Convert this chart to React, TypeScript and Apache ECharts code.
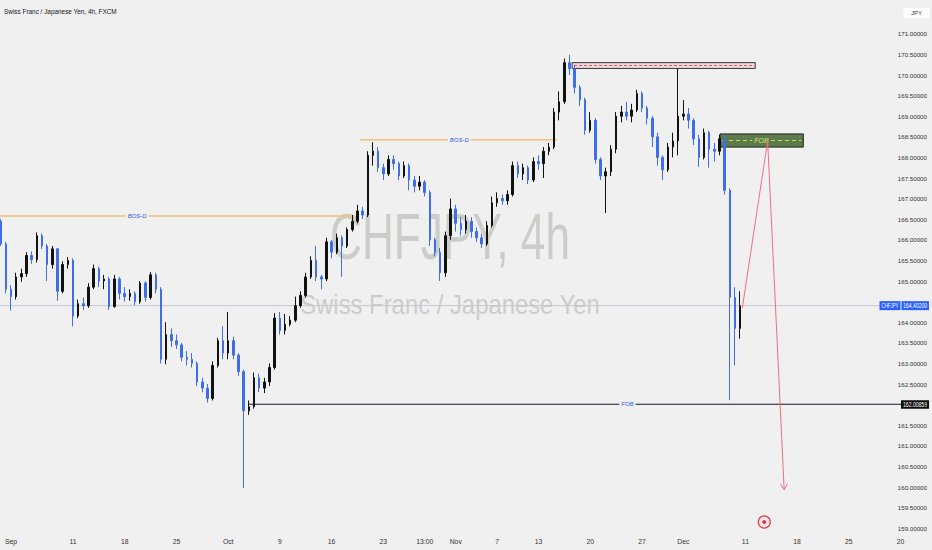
import React, { useEffect, useRef } from 'react';
import * as echarts from 'echarts';

// 12-hour candles, CHF/JPY, from 31 Aug 2023 to 8 Dec 2023
const opens = [
  166.45, 165.90, 164.80, 164.62, 165.10, 165.18, 165.62, 165.52, 166.10, 165.85,
  165.40, 165.78, 164.75, 165.40, 165.50, 164.15, 164.45, 164.40, 164.85, 165.30,
  165.00, 165.05, 164.38, 165.05, 164.70, 164.62, 164.70, 164.50, 164.95, 164.60,
  165.15, 164.80, 163.10, 163.70, 163.55, 163.45, 163.15, 163.10, 163.00, 162.55,
  162.40, 162.15, 162.95, 163.55, 163.25, 163.55, 163.20, 162.80, 161.85, 161.95,
  162.65, 162.40, 162.55, 162.90, 164.10, 163.80, 163.95, 164.05, 164.40, 164.65,
  165.10, 165.50, 165.10, 165.05, 165.95, 165.70, 166.05, 165.85, 166.25, 166.45,
  166.70, 166.60, 168.05, 168.15, 167.75, 167.60, 167.95, 167.85, 167.55, 167.80,
  167.45, 167.30, 167.40, 167.15, 166.00, 165.70, 165.20, 166.10, 166.75, 166.40,
  166.25, 166.45, 166.20, 166.05, 165.90, 166.35, 166.90, 167.00, 166.95, 167.10,
  167.80, 167.60, 167.75, 167.45, 167.90, 167.85, 168.15, 168.25, 169.10, 169.35,
  170.30, 170.15, 169.70, 169.40, 168.66, 168.90, 167.95, 167.55, 167.65, 168.20,
  169.00, 169.10, 169.00, 169.15, 169.55, 169.20, 168.95, 168.50, 168.00, 167.70,
  168.25, 168.40, 169.00, 169.05, 168.90, 168.45, 168.00, 168.60, 168.20, 168.15,
  168.45, 167.20, 164.60, 163.85,
];
const closes = [
  165.90, 164.80, 164.62, 165.10, 165.18, 165.62, 165.52, 166.10, 165.85, 165.40,
  165.78, 164.75, 165.40, 165.50, 164.15, 164.45, 164.40, 164.85, 165.30, 165.00,
  165.05, 164.38, 165.05, 164.70, 164.62, 164.70, 164.50, 164.95, 164.60, 165.15,
  164.80, 163.10, 163.70, 163.55, 163.45, 163.15, 163.10, 163.00, 162.55, 162.40,
  162.15, 162.95, 163.55, 163.25, 163.55, 163.20, 162.80, 161.85, 161.95, 162.65,
  162.40, 162.55, 162.90, 164.10, 163.80, 163.95, 164.05, 164.40, 164.65, 165.10,
  165.50, 165.10, 165.05, 165.95, 165.70, 166.05, 165.85, 166.25, 166.45, 166.70,
  166.60, 168.05, 168.15, 167.75, 167.60, 167.95, 167.85, 167.55, 167.80, 167.45,
  167.30, 167.40, 167.15, 166.00, 165.70, 165.20, 166.10, 166.75, 166.40, 166.25,
  166.45, 166.20, 166.05, 165.90, 166.35, 166.90, 167.00, 166.95, 167.10, 167.80,
  167.60, 167.75, 167.45, 167.90, 167.85, 168.15, 168.25, 169.10, 169.35, 170.30,
  170.15, 169.70, 169.40, 168.66, 168.90, 167.95, 167.55, 167.65, 168.20, 169.00,
  169.10, 169.00, 169.15, 169.55, 169.20, 168.95, 168.50, 168.00, 167.70, 168.25,
  168.40, 169.00, 169.05, 168.90, 168.45, 168.00, 168.60, 168.20, 168.15, 168.45,
  167.20, 164.60, 163.85, 164.40,
];
const lows = [
  165.85, 164.70, 164.28, 164.55, 164.98, 165.10, 165.42, 165.45, 165.78, 165.00,
  165.30, 164.52, 164.70, 165.30, 163.90, 164.10, 164.30, 164.35, 164.80, 164.85,
  164.80, 164.30, 164.35, 164.55, 164.50, 164.52, 164.42, 164.45, 164.50, 164.55,
  164.70, 163.00, 162.98, 163.40, 163.35, 163.05, 162.95, 162.90, 162.45, 162.30,
  162.05, 162.10, 162.90, 163.10, 163.10, 163.10, 162.70, 159.98, 161.75, 161.90,
  162.30, 162.28, 162.45, 162.85, 163.70, 163.70, 163.90, 164.00, 164.35, 164.60,
  165.05, 165.00, 164.80, 165.00, 165.55, 165.65, 165.10, 165.80, 166.20, 166.40,
  166.50, 166.55, 167.80, 167.65, 167.45, 167.55, 167.70, 167.45, 167.50, 167.20,
  167.15, 167.20, 167.05, 165.85, 165.60, 165.00, 165.10, 166.00, 166.20, 166.10,
  166.15, 166.05, 165.95, 165.80, 165.85, 166.30, 166.80, 166.85, 166.85, 167.05,
  167.50, 167.45, 167.35, 167.40, 167.70, 167.50, 168.05, 168.20, 168.90, 169.30,
  170.00, 169.55, 169.25, 168.55, 168.60, 167.85, 167.45, 166.65, 167.55, 168.10,
  168.85, 168.90, 168.85, 169.10, 169.10, 168.80, 168.25, 167.80, 167.45, 167.65,
  168.00, 168.05, 168.90, 168.70, 168.30, 167.77, 167.95, 167.75, 167.90, 168.05,
  167.10, 162.11, 162.95, 163.60,
];
const highs = [
  166.50, 165.95, 164.90, 165.20, 165.30, 165.70, 165.72, 166.18, 166.15, 165.90,
  165.85, 165.80, 165.48, 165.58, 165.55, 164.55, 164.60, 164.95, 165.40, 165.35,
  165.15, 165.10, 165.15, 165.10, 164.85, 164.80, 164.75, 165.00, 165.00, 165.22,
  165.20, 164.85, 164.00, 163.85, 163.70, 163.50, 163.30, 163.25, 163.05, 162.65,
  162.50, 163.05, 163.62, 163.90, 164.25, 163.65, 163.25, 162.85, 162.10, 162.78,
  162.75, 162.65, 163.00, 164.22, 164.25, 164.20, 164.15, 164.62, 164.75, 165.20,
  165.60, 165.85, 165.15, 166.05, 166.00, 166.15, 166.10, 166.30, 166.60, 166.85,
  166.80, 168.15, 168.37, 168.25, 167.85, 168.05, 168.05, 167.90, 167.90, 167.85,
  167.55, 167.55, 167.45, 167.20, 166.05, 165.80, 166.20, 167.00, 166.85, 166.55,
  166.60, 166.55, 166.30, 166.15, 166.45, 167.05, 167.15, 167.10, 167.20, 167.90,
  167.90, 167.85, 167.80, 168.00, 168.05, 168.25, 168.35, 169.20, 169.60, 170.40,
  170.49, 170.25, 169.75, 169.45, 169.10, 168.95, 168.00, 167.75, 168.30, 169.10,
  169.25, 169.35, 169.30, 169.64, 169.60, 169.25, 169.00, 168.60, 168.05, 168.35,
  168.60, 170.16, 169.39, 169.20, 168.95, 168.55, 168.70, 168.65, 168.35, 168.55,
  168.55, 167.25, 164.85, 164.75,
];

// time-axis labels (first 12h slot of each date)
const tickDates = [
  '2023-09-01', '2023-09-11', '2023-09-18', '2023-09-25', '2023-10-02', '2023-10-09',
  '2023-10-16', '2023-10-23', '2023-10-27', '2023-11-01', '2023-11-07', '2023-11-13',
  '2023-11-20', '2023-11-27', '2023-12-01', '2023-12-11', '2023-12-18', '2023-12-25',
  '2024-01-01',
];
const tickTexts = [
  'Sep', '11', '18', '25', 'Oct', '9', '16', '23', '13:00', 'Nov', '7', '13', '20', '27',
  'Dec', '11', '18', '25', '20',
];

// key levels / drawings (slot index, price)
const lastPrice = 164.402;
const fobLevel = 162.00859;
const hiddenTicks = [164.5, 162.0]; // covered by the price-scale badges
const bosLevels = [166.58, 168.43];
const bosSpans = [[-0.5, 68.6, 26.4], [69.5, 107.6, 88.7]];
const topBox = { from: 110.5, to: 145.9, hi: 170.3, lo: 170.16, mid: 170.23 };
const greenBox = { from: 139.1, to: 155.2, hi: 168.57, lo: 168.25, mid: 168.41, label: 147.1 };
const projection = [[143.4, 164.34], [148.3, 168.4], [151.5, 159.93]];
const fobLineStart = 47.9;
const fobLabelSlot = 121.2;
const markerPoint = [147.65, 159.15];

const SLOT_COUNT = 180;
const NARROW = "'Liberation Sans Narrow', 'Liberation Sans', Arial, sans-serif";
const SANS = "'Liberation Sans', Arial, sans-serif";

function buildSlots(): string[] {
  const out: string[] = [];
  const d = new Date(Date.UTC(2023, 7, 31));
  while (out.length < SLOT_COUNT) {
    const wd = d.getUTCDay();
    if (wd !== 0 && wd !== 6) {
      const s = d.toISOString().slice(0, 10);
      out.push(s + ' a', s + ' b');
    }
    d.setUTCDate(d.getUTCDate() + 1);
  }
  return out;
}

export default function App() {
  const ref = useRef<HTMLDivElement>(null);

  useEffect(() => {
    const chart = echarts.init(ref.current!, null, { renderer: 'svg' });
    const slots = buildSlots();
    const tickMap: Record<string, string> = {};
    tickDates.forEach((d, i) => {
      tickMap[d + ' a'] = tickTexts[i];
    });
    const candles = opens.map((o, i) => [o, closes[i], lows[i], highs[i]]);

    chart.setOption({
      animation: false,
      backgroundColor: '#f0f0f0',
      grid: { left: -2, right: 3, top: 13.2, bottom: 1.2, outerBoundsMode: 'none' },
      xAxis: {
        type: 'category',
        data: slots,
        boundaryGap: true,
        axisLine: { show: false },
        axisTick: { show: false },
        splitLine: { show: false },
        axisLabel: {
          inside: true,
          interval: 0,
          margin: 3.5,
          fontSize: 6.8,
          color: '#333',
          fontFamily: NARROW,
          formatter: (v: string) => tickMap[v] ?? '',
        },
      },
      yAxis: {
        type: 'value',
        position: 'right',
        min: 158.5,
        max: 171.5,
        interval: 0.5,
        axisLine: { show: false },
        axisTick: { show: false },
        splitLine: { show: false },
        axisLabel: {
          inside: true,
          margin: 2,
          fontSize: 6.2,
          color: '#333',
          fontFamily: NARROW,
          showMinLabel: false,
          showMaxLabel: false,
          formatter: (v: number) =>
            hiddenTicks.some((h) => Math.abs(h - v) < 1e-6) ? '' : v.toFixed(5),
        },
      },
      series: [
        {
          type: 'candlestick',
          data: candles,
          barWidth: 2,
          z: 3,
          itemStyle: {
            color: '#111111',
            color0: '#3f6fe6',
            borderColor: '#111111',
            borderColor0: '#3f6fe6',
            borderWidth: 1,
          },
        },
      ],
    });

    const P = (slot: number, price: number): number[] => {
      const a = chart.convertToPixel({ gridIndex: 0 }, [0, price]) as number[];
      const b = chart.convertToPixel({ gridIndex: 0 }, [1, price]) as number[];
      return [a[0] + (b[0] - a[0]) * slot, a[1]];
    };

    const ctx = document.createElement('canvas').getContext('2d')!;
    const fit = (text: string, size: number, family: string, target: number) => {
      ctx.font = `${size}px ${family}`;
      const w = ctx.measureText(text).width || target;
      return Math.min(1, target / w);
    };

    const els: any[] = [];

    // watermark
    els.push({
      type: 'text', x: 450, y: 237, z: 0, silent: true,
      scaleX: fit('CHFJPY, 4h', 64, SANS, 240),
      style: { text: 'CHFJPY, 4h', fontSize: 64, fontFamily: SANS, fill: '#cbcec8', align: 'center', verticalAlign: 'middle' },
    });
    els.push({
      type: 'text', x: 450, y: 304, z: 0, silent: true,
      scaleX: fit('Swiss Franc / Japanese Yen', 28, SANS, 300),
      style: { text: 'Swiss Franc / Japanese Yen', fontSize: 28, fontFamily: SANS, fill: '#cbcec8', align: 'center', verticalAlign: 'middle' },
    });
    // title
    els.push({
      type: 'text', x: 4, y: 11, z: 100, silent: true,
      scaleX: fit('Swiss Franc / Japanese Yen, 4h, FXCM', 8, SANS, 113),
      style: { text: 'Swiss Franc / Japanese Yen, 4h, FXCM', fontSize: 8, fontFamily: SANS, fill: '#131722', align: 'left', verticalAlign: 'middle' },
    });

    // last price line
    const lp = P(0, lastPrice);
    els.push({ type: 'line', z: 1, silent: true, shape: { x1: 0, y1: lp[1], x2: 880, y2: lp[1] }, style: { stroke: '#c3c8d2', lineWidth: 1 } });

    // BOS lines
    bosLevels.forEach((lvl, i) => {
      const [s0, s1, sl] = bosSpans[i];
      const a = P(s0, lvl);
      const b = P(s1, lvl);
      const c = P(sl, lvl);
      els.push({ type: 'line', z: 1, silent: true, shape: { x1: a[0], y1: a[1], x2: b[0], y2: b[1] }, style: { stroke: '#f3c07a', lineWidth: 1.5 } });
      els.push({
        type: 'text', x: c[0], y: c[1], z: 4, silent: true,
        style: { text: 'BOS-D', fontSize: 6, fontFamily: NARROW, fontStyle: 'italic', fill: '#2f5fe0', align: 'center', verticalAlign: 'middle', backgroundColor: '#f0f0f0', padding: [0, 2] },
      });
    });

    // FOB line
    const fa = P(fobLineStart, fobLevel);
    const fl = P(fobLabelSlot, fobLevel);
    els.push({ type: 'line', z: 4, silent: true, shape: { x1: fa[0], y1: fa[1], x2: 901, y2: fa[1] }, style: { stroke: '#131722', lineWidth: 1 } });
    els.push({
      type: 'text', x: fl[0], y: fl[1], z: 5, silent: true,
      style: { text: 'FOB', fontSize: 6, fontFamily: NARROW, fontStyle: 'italic', fill: '#2f5fe0', align: 'center', verticalAlign: 'middle', backgroundColor: '#f0f0f0', padding: [0, 2] },
    });

    // top box
    const t0 = P(topBox.from, topBox.hi);
    const t1 = P(topBox.to, topBox.lo);
    const tm = P(topBox.from, topBox.mid);
    els.push({ type: 'rect', z: 1, silent: true, shape: { x: t0[0], y: t0[1], width: t1[0] - t0[0], height: t1[1] - t0[1] }, style: { fill: '#f5dcdc', stroke: '#333333', lineWidth: 1 } });
    els.push({ type: 'line', z: 1, silent: true, shape: { x1: t0[0] + 2, y1: tm[1], x2: t1[0] - 2, y2: tm[1] }, style: { stroke: '#e0505e', lineWidth: 1, lineDash: [3, 2] } });

    // green box
    const g0 = P(greenBox.from, greenBox.hi);
    const g1 = P(greenBox.to, greenBox.lo);
    const gm = P(greenBox.from, greenBox.mid);
    const gl = P(greenBox.label, greenBox.mid);
    els.push({ type: 'rect', z: 1, silent: true, shape: { x: g0[0], y: g0[1], width: g1[0] - g0[0], height: g1[1] - g0[1] }, style: { fill: '#5c7b4c', stroke: '#222222', lineWidth: 1 } });
    els.push({ type: 'line', z: 1, silent: true, shape: { x1: g0[0] + 2, y1: gm[1], x2: g1[0] - 2, y2: gm[1] }, style: { stroke: '#cde14e', lineWidth: 1, lineDash: [4, 3] } });
    els.push({
      type: 'text', x: gl[0], y: gl[1], z: 2, silent: true,
      style: { text: 'FOB', fontSize: 7, fontFamily: NARROW, fontStyle: 'italic', fill: '#d9e862', align: 'center', verticalAlign: 'middle', backgroundColor: '#5c7b4c', padding: [0, 2] },
    });

    // projection path with arrow
    const pts = projection.map(([s, p]) => P(s, p));
    els.push({ type: 'polyline', z: 6, silent: true, shape: { points: pts }, style: { stroke: '#f0707f', lineWidth: 1, fill: null } });
    const E = pts[pts.length - 1];
    const V = pts[pts.length - 2];
    const len = Math.hypot(E[0] - V[0], E[1] - V[1]);
    const dx = (E[0] - V[0]) / len;
    const dy = (E[1] - V[1]) / len;
    const nx = -dy;
    const ny = dx;
    els.push({
      type: 'polyline', z: 6, silent: true,
      shape: { points: [[E[0] - 6 * dx + 3.5 * nx, E[1] - 6 * dy + 3.5 * ny], E, [E[0] - 6 * dx - 3.5 * nx, E[1] - 6 * dy - 3.5 * ny]] },
      style: { stroke: '#f0707f', lineWidth: 1, fill: null },
    });

    // event marker
    const mk = P(markerPoint[0], markerPoint[1]);
    els.push({ type: 'circle', z: 6, silent: true, shape: { cx: mk[0], cy: mk[1], r: 6 }, style: { fill: '#f7e9ea', stroke: '#e23645', lineWidth: 1.2 } });
    els.push({ type: 'circle', z: 6, silent: true, shape: { cx: mk[0], cy: mk[1], r: 2 }, style: { fill: '#e23645' } });

    // price scale badges
    const badgeText = (text: string, cx: number, cy: number, w: number, fill: string, size: number) => ({
      type: 'text', x: cx, y: cy, z: 101, silent: true,
      scaleX: fit(text, size, SANS, w),
      style: { text, fontSize: size, fontFamily: SANS, fill, align: 'center', verticalAlign: 'middle' },
    });
    els.push({ type: 'rect', z: 100, silent: true, shape: { x: 879.5, y: lp[1] - 4.5, width: 21, height: 9 }, style: { fill: '#2962ff' } });
    els.push(badgeText('CHFJPY', 890, lp[1] + 0.3, 17, '#ffffff', 6.5));
    els.push({ type: 'rect', z: 100, silent: true, shape: { x: 901.5, y: lp[1] - 4.5, width: 27.5, height: 9 }, style: { fill: '#2962ff' } });
    els.push(badgeText(lastPrice.toFixed(5), 915.2, lp[1] + 0.3, 24, '#ffffff', 6.5));
    els.push({ type: 'rect', z: 100, silent: true, shape: { x: 901, y: fa[1] - 4, width: 28, height: 8.5 }, style: { fill: '#0c0c0c' } });
    els.push(badgeText(fobLevel.toFixed(5), 915, fa[1] + 0.3, 24, '#ffffff', 6.5));
    els.push({ type: 'rect', z: 100, silent: true, shape: { x: 903, y: 7.5, width: 27, height: 11, r: 2 }, style: { fill: '#ffffff', stroke: '#e3e3e3', lineWidth: 0.5 } });
    els.push(badgeText('JPY', 916.5, 13, 11, '#333333', 6));

    chart.setOption({ graphic: { elements: els } });

    return () => chart.dispose();
  }, []);

  return (
    <div
      ref={ref}
      style={{ position: 'fixed', left: 0, top: 0, width: 932, height: 550 }}
    />
  );
}
